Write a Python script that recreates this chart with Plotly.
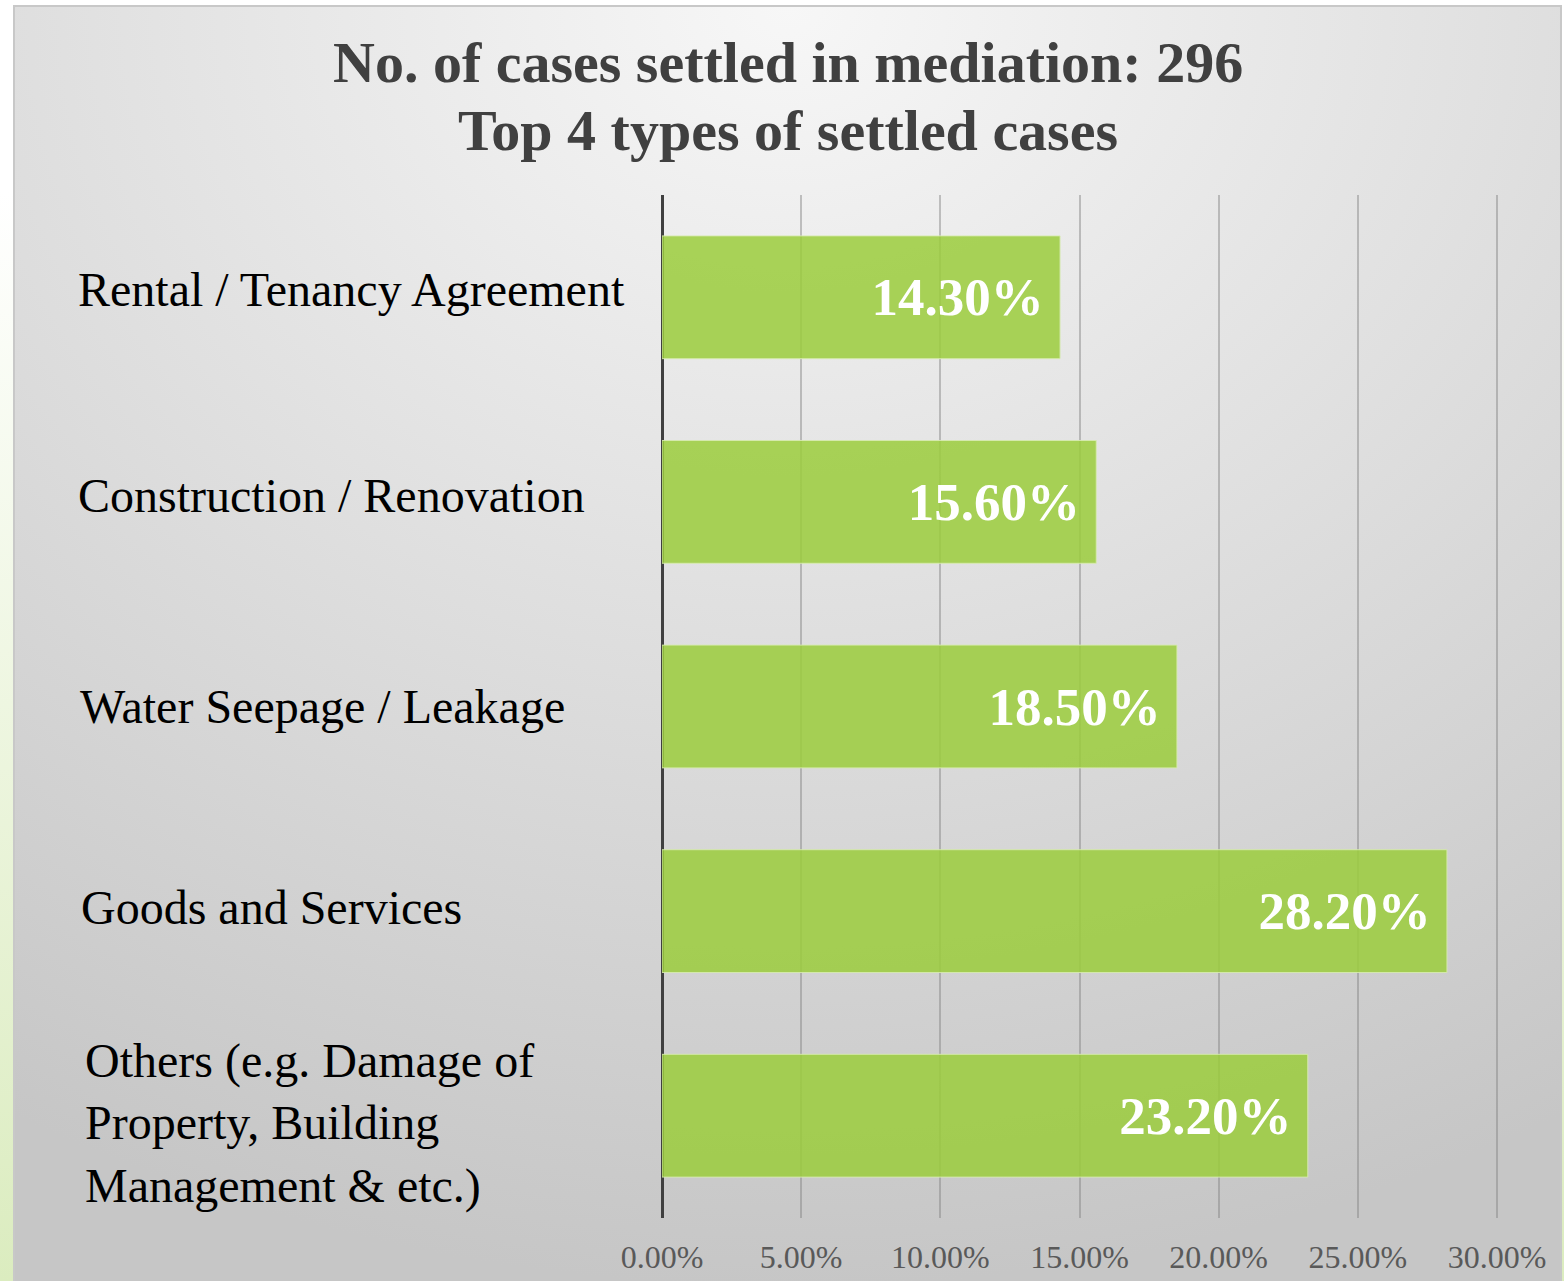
import base64
import plotly.graph_objects as go

# ---- data ----
categories = [
    "Rental / Tenancy Agreement",
    "Construction / Renovation",
    "Water Seepage / Leakage",
    "Goods and Services",
    "Others (e.g. Damage of<br>Property, Building<br>Management & etc.)",
]
shares = [0.143, 0.156, 0.185, 0.282, 0.232]
tick_values = [0, 0.05, 0.10, 0.15, 0.20, 0.25, 0.30]
title_line1 = "No. of cases settled in mediation: 296"
title_line2 = "Top 4 types of settled cases"

W, H = 1564, 1281
FONT = "Liberation Serif, Times New Roman, serif"

# ---- background (card with radial gradient + green strip) ----
svg = f"""<svg xmlns='http://www.w3.org/2000/svg' width='{W}' height='{H}' viewBox='0 0 {W} {H}' preserveAspectRatio='none'>
<defs>
<linearGradient id='g1' x1='0' y1='0' x2='0' y2='1'>
<stop offset='0' stop-color='#ffffff'/><stop offset='0.15' stop-color='#ffffff'/><stop offset='1' stop-color='#dbecbf'/>
</linearGradient>
<radialGradient id='g2' cx='0.5' cy='0' r='1' fx='0.5' fy='0' gradientUnits='objectBoundingBox'>
<stop offset='0' stop-color='#f7f7f7'/><stop offset='1' stop-color='#c6c6c6'/>
</radialGradient>
</defs>
<rect x='0' y='0' width='{W}' height='{H}' fill='#ffffff'/>
<rect x='0' y='0' width='14' height='{H}' fill='url(#g1)'/>
<rect x='1561' y='0' width='3' height='{H}' fill='url(#g1)'/>
<rect x='14' y='6' width='1547' height='{H}' fill='url(#g2)' stroke='#c8c8c8' stroke-width='2'/>
</svg>"""
uri = "data:image/svg+xml;base64," + base64.b64encode(svg.encode()).decode()

fig = go.Figure()
fig.add_trace(go.Bar(
    y=categories, x=shares, orientation="h",
    marker=dict(color="rgba(155,204,60,0.85)",
                line=dict(color="rgba(215,235,175,0.9)", width=1)),
    text=[f"{v*100:.2f}%\u00a0" for v in shares],
    textposition="inside", insidetextanchor="end",
    textfont=dict(family=FONT, size=53, color="white", weight="bold"),
    cliponaxis=False,
))

fig.update_layout(
    width=W, height=H,
    margin=dict(l=0, r=0, t=0, b=0, pad=0, autoexpand=False),
    paper_bgcolor="white", plot_bgcolor="rgba(0,0,0,0)",
    showlegend=False, bargap=0.4,
    images=[dict(source=uri, xref="paper", yref="paper", x=0, y=1,
                 sizex=1, sizey=1, sizing="stretch",
                 xanchor="left", yanchor="top", layer="below")],
    xaxis=dict(domain=[662 / W, 1499 / W], range=[0, 0.3007], automargin=False,
               tickvals=tick_values, tickformat=".2%",
               showgrid=True, gridcolor="rgba(128,128,128,0.45)", gridwidth=1.5,
               zeroline=True, zerolinecolor="#404040", zerolinewidth=3,
               ticks="", ticklabelstandoff=17,
               tickfont=dict(family=FONT, size=32, color="#595959"),
               fixedrange=True),
    yaxis=dict(domain=[1 - 1218 / H, 1 - 195 / H], autorange="reversed",
               automargin=False,
               showticklabels=False, showgrid=False, zeroline=False,
               fixedrange=True),
)

# title
fig.add_annotation(text=f"<b>{title_line1}</b>", xref="paper", yref="paper",
                   x=788 / W, y=1 - 62 / H, xanchor="center", yanchor="middle",
                   showarrow=False, font=dict(family=FONT, size=58, color="#404040"))
fig.add_annotation(text=f"<b>{title_line2}</b>", xref="paper", yref="paper",
                   x=788 / W, y=1 - 130 / H, xanchor="center", yanchor="middle",
                   showarrow=False, font=dict(family=FONT, size=58, color="#404040"))

# category labels
shifts = [8, 6, 0, 4, -8]
xpos = [76, 76, 78, 79, 83]
for cat, ys, xp in zip(categories, shifts, xpos):
    fig.add_annotation(text=cat, xref="paper", yref="y", x=xp / W, y=cat,
                       xanchor="left", yanchor="middle", align="left",
                       yshift=ys, showarrow=False,
                       font=dict(family=FONT, size=48, color="black"))

fig.write_html("out.html", config={"displayModeBar": False},
               post_script="document.body.style.margin='0';document.body.style.overflow='hidden';")
